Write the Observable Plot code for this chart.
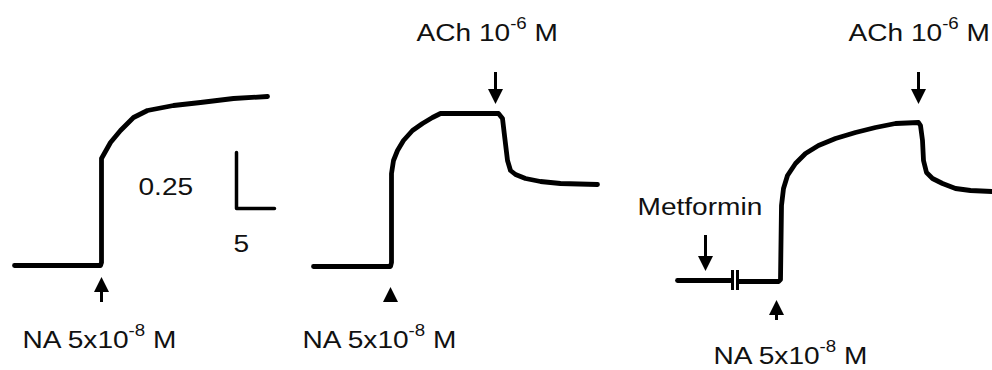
<!DOCTYPE html>
<html>
<head>
<meta charset="utf-8">
<script src="https://cdn.jsdelivr.net/npm/d3@7"></script>
<script src="https://cdn.jsdelivr.net/npm/@observablehq/plot@0.6"></script>
<style>
  html, body { margin: 0; padding: 0; background: #fff; }
  #chart { width: 992px; height: 370px; overflow: hidden; }
</style>
</head>
<body>
<div id="chart"></div>
<script>
// Time axis (arbitrary units) and tension (arbitrary units, up = contraction)
const H = 370;
// Trace 1: NA alone
const trace1Time = [14, 100, 101, 101, 110, 120, 133, 147, 173, 200, 233, 267];
const trace1Tension = [105, 105, 108, 212, 228, 240, 253, 260, 265, 268, 272, 274];
// Trace 2: NA then ACh
const trace2Time = [313, 390, 391, 391, 393, 397, 403, 412, 422, 432, 440, 498, 502, 504, 507, 510, 515, 525, 540, 560, 597];
const trace2Tension = [104, 104, 108, 197, 210, 220, 230, 240, 247, 253, 257, 257, 252, 235, 210, 200, 196, 192, 189, 187, 186];
// Trace 3: Metformin, NA, then ACh (two segments, broken at the break marks)
const trace3aTime = [677, 730];
const trace3aTension = [90, 90];
const trace3bTime = [738, 778, 780, 781, 783, 787, 795, 805, 818, 835, 855, 875, 895, 918, 920, 922, 923, 926, 932, 942, 955, 970, 992];
const trace3bTension = [89, 89, 91, 165, 182, 195, 207, 217, 225, 232, 238, 243, 247, 248, 245, 230, 210, 198, 192, 187, 182, 180, 179];
const breakTime = [732, 737];
const breakTension = [80, 100];

// Scale bar: 0.25 (tension) x 5 (time)
const scaleBarTime = [236, 236, 274];
const scaleBarTension = [218, 162, 162];

// Arrows: position, tip, tail, direction
const arrowTime = [101, 390, 776, 495, 918, 705];
const arrowTip = [93, 83, 70, 267, 267, 100];
const arrowTail = [68, 70, 50, 298, 298, 135];
const arrowDir = ["up", "up", "up", "down", "down", "down"];

// Labels
const labelText = ["NA 5x10^{-8} M", "NA 5x10^{-8} M", "NA 5x10^{-8} M", "ACh 10^{-6} M", "ACh 10^{-6} M", "Metformin", "0.25", "5"];
const labelTime = [22, 302, 713, 416, 848, 637, 138, 233];
const labelTension = [23, 23, 7, 330, 330, 156, 176, 119];

const traces = [];
trace1Time.forEach((t, i) => traces.push({t, v: trace1Tension[i], s: "1"}));
trace2Time.forEach((t, i) => traces.push({t, v: trace2Tension[i], s: "2"}));
trace3aTime.forEach((t, i) => traces.push({t, v: trace3aTension[i], s: "3a"}));
trace3bTime.forEach((t, i) => traces.push({t, v: trace3bTension[i], s: "3b"}));

const scaleBar = scaleBarTime.map((t, i) => ({t, v: scaleBarTension[i]}));
const breaks = breakTime.map(t => ({t, v1: breakTension[0], v2: breakTension[1]}));
const HEAD = 14;
const arrows = arrowTime.map((t, i) => ({
  t, tip: arrowTip[i], tail: arrowTail[i], dir: arrowDir[i],
  head: arrowDir[i] === "up" ? arrowTip[i] - HEAD / 2 : arrowTip[i] + HEAD / 2
}));
const labels = labelText.map((text, i) => ({text, t: labelTime[i], v: labelTension[i]}));

const triUp = {draw(ctx, size) {
  const r = Math.sqrt(size / Math.PI);
  ctx.moveTo(0, -r); ctx.lineTo(r, r); ctx.lineTo(-r, r); ctx.closePath();
}};
const triDown = {draw(ctx, size) {
  const r = Math.sqrt(size / Math.PI);
  ctx.moveTo(0, r); ctx.lineTo(r, -r); ctx.lineTo(-r, -r); ctx.closePath();
}};

const chart = Plot.plot({
  width: 992,
  height: H,
  margin: 0,
  x: {domain: [0, 992], range: [0, 992], axis: null},
  y: {domain: [0, H], range: [H, 0], axis: null},
  style: {fontFamily: "'Liberation Sans', Arial, sans-serif", background: "#fff"},
  marks: [
    Plot.line(traces, {x: "t", y: "v", z: "s", stroke: "#000", strokeWidth: 4.8, strokeLinejoin: "round", strokeLinecap: "round"}),
    Plot.ruleX(breaks, {x: "t", y1: "v1", y2: "v2", stroke: "#000", strokeWidth: 3}),
    Plot.line(scaleBar, {x: "t", y: "v", stroke: "#000", strokeWidth: 3.5, strokeLinejoin: "round"}),
    Plot.ruleX(arrows, {x: "t", y1: "head", y2: "tail", stroke: "#000", strokeWidth: 3}),
    Plot.dot(arrows.filter(a => a.dir === "up"), {x: "t", y: "head", r: 7.5, symbol: triUp, fill: "#000", stroke: "none"}),
    Plot.dot(arrows.filter(a => a.dir === "down"), {x: "t", y: "head", r: 7.5, symbol: triDown, fill: "#000", stroke: "none"}),
    Plot.text(labels, {x: "t", y: "v", text: "text", textAnchor: "start", lineAnchor: "bottom", fontSize: 24, fill: "#111"})
  ]
});

// Render superscripts written as ^{...} with tspans, and stretch labels horizontally like the original
const STRETCH = 1.17;
d3.select(chart).selectAll("text").each(function() {
  const el = this;
  const s = el.textContent;
  const m = s.match(/^(.*)\^\{(.*?)\}(.*)$/);
  if (m) {
    el.textContent = "";
    const sel = d3.select(el);
    sel.append("tspan").text(m[1]);
    sel.append("tspan").attr("dy", -12).attr("font-size", 16).text(m[2]);
    sel.append("tspan").attr("dy", 12).text(m[3]);
  }
  const tr = el.getAttribute("transform");
  if (tr && /translate/.test(tr)) {
    el.setAttribute("transform", tr + ` scale(${STRETCH},1)`);
  } else {
    const x = +el.getAttribute("x") || 0;
    el.setAttribute("transform", `translate(${x},0) scale(${STRETCH},1) translate(${-x},0)`);
  }
});

document.getElementById("chart").appendChild(chart);
</script>
</body>
</html>
